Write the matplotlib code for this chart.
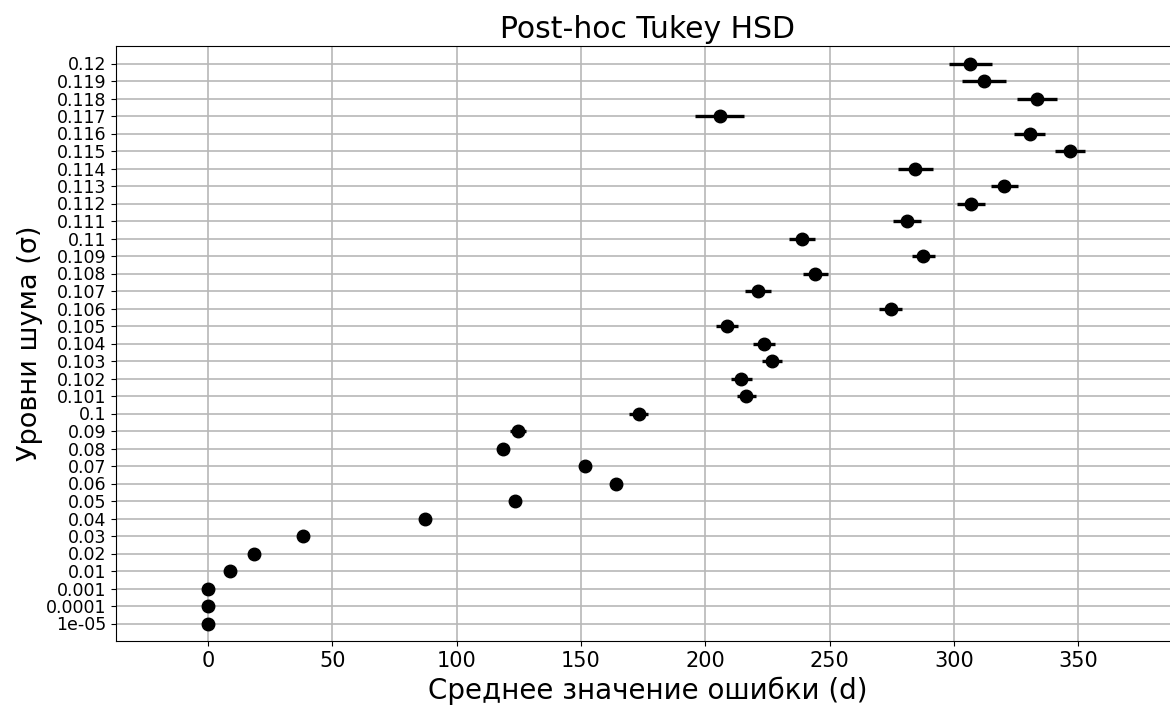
import matplotlib
matplotlib.use('Agg')
import matplotlib.pyplot as plt
import numpy as np

# noise levels (bottom -> top) and Tukey HSD means / half widths
levels = ['1e-05', '0.0001', '0.001', '0.01', '0.02', '0.03', '0.04', '0.05',
          '0.06', '0.07', '0.08', '0.09', '0.1', '0.101', '0.102', '0.103',
          '0.104', '0.105', '0.106', '0.107', '0.108', '0.109', '0.11',
          '0.111', '0.112', '0.113', '0.114', '0.115', '0.116', '0.117',
          '0.118', '0.119', '0.12']
means = [0.0, 0.0, 0.0, 8.9, 18.3, 38.4, 87.3, 123.6,
         164.2, 151.5, 118.6, 124.5, 173.3, 216.5, 214.5, 226.9,
         223.6, 208.6, 274.6, 221.2, 244.2, 287.7, 239.0,
         281.1, 306.9, 320.3, 284.4, 346.5, 330.4, 205.8,
         333.5, 312.1, 306.6]
halfwidths = [0.3, 0.3, 0.3, 0.6, 0.8, 1.0, 1.2, 1.4,
              1.6, 1.8, 2.5, 3.2, 3.8, 3.9, 4.2, 4.0,
              4.4, 4.5, 4.6, 5.3, 5.0, 4.7, 5.3,
              5.7, 5.6, 5.6, 7.0, 6.0, 6.4, 9.8,
              8.0, 9.0, 8.5]

fig = plt.figure(figsize=(11.7, 7.11), dpi=100)
ax = fig.add_axes([116/1170, 1 - 641/711, (1179 - 116)/1170, (641 - 46)/711])

ypos = np.arange(len(levels))
ax.errorbar(means, ypos, xerr=halfwidths, fmt='o', color='k', ecolor='k',
            markersize=9, elinewidth=2.4, capsize=0)

ax.set_yticks(ypos)
ax.set_yticklabels(levels, fontsize=12.5)
ax.set_ylim(-1, len(levels))
ax.set_xlim(-37, 390.5)
ax.set_xticks([0, 50, 100, 150, 200, 250, 300, 350])
ax.tick_params(axis='x', labelsize=15)
ax.grid(True, color='#b8b8b8', linewidth=1.2)
ax.set_axisbelow(True)

ax.set_title('Post-hoc Tukey HSD', fontsize=21.5)
ax.set_xlabel('Среднее значение ошибки (d)', fontsize=20)
ax.set_ylabel('Уровни шума (σ)', fontsize=19.5, labelpad=2)

fig.savefig('out.png', dpi=100)
